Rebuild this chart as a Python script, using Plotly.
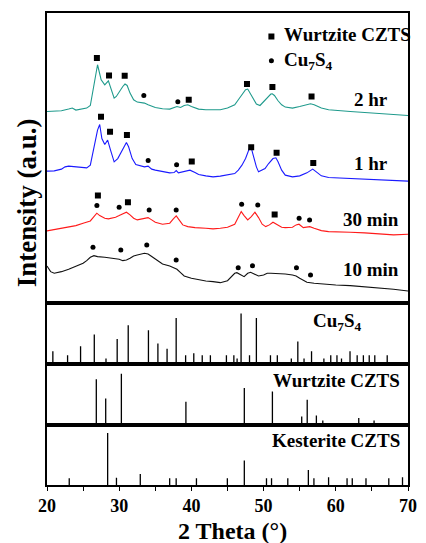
import plotly.graph_objects as go

# ---------------- data ----------------
# XRD patterns (2theta, stacked intensity in a.u.)
x_2hr = [20, 21, 22, 23, 23.5, 24, 25, 25.5, 26, 26.5, 27, 27.5, 28, 28.5, 29, 29.3, 29.6, 30, 30.5, 30.8, 31.1, 31.5, 32, 32.5, 33, 33.5, 34, 35, 36, 37, 38, 38.5, 39, 39.5, 40, 41, 42, 43, 44, 45, 46, 46.5, 47, 47.5, 47.8, 48, 48.5, 49, 49.5, 50, 50.5, 51, 51.2, 51.5, 52, 52.5, 53, 54, 55, 56, 56.5, 57, 58, 59, 60, 62, 64, 66, 68, 70]
y_2hr = [191.6, 191.6, 192.3, 194, 195, 193, 194, 195, 197.6, 218.3, 238.3, 223.3, 218.3, 222.3, 211.6, 205, 206.6, 211.6, 216.6, 219, 217.6, 210, 203.3, 201, 200.6, 200, 198.3, 195.6, 194.3, 194, 196.6, 195.6, 197.6, 198.3, 196.6, 194, 193.3, 193, 193.3, 195, 198.3, 203.3, 209, 213.3, 214, 211.6, 205, 199, 197.6, 201.6, 205.6, 209, 209.3, 207.6, 202.3, 198.3, 196, 195, 196.6, 198.3, 199.3, 198.3, 195, 193.3, 192.6, 191.6, 190.6, 189.6, 189, 187.6]

x_1hr = [20, 21, 22, 22.5, 23, 24, 25, 25.5, 26, 26.5, 27, 27.3, 27.6, 28, 28.4, 28.8, 29.3, 29.8, 30.3, 30.8, 31, 31.3, 31.8, 32.3, 33, 33.5, 34, 34.5, 35, 36, 37, 37.6, 37.9, 38.2, 39, 39.8, 40.5, 41, 42, 43, 44, 45, 46, 46.5, 47, 47.5, 48, 48.2, 48.5, 49, 49.3, 49.7, 50.2, 50.7, 51.3, 51.7, 52, 52.5, 53, 54, 55, 56, 56.8, 57.3, 58, 59, 60, 62, 64, 66, 68, 70]
y_1hr = [132, 132.3, 134, 136.3, 137, 136.3, 135.3, 135.3, 138, 154.6, 173, 178.6, 164.6, 158.6, 163, 153, 141.3, 144.6, 151.3, 158, 160.6, 156.3, 144.6, 138.6, 137.3, 136.3, 137, 134, 133, 131.3, 130.3, 130.6, 132.6, 130.3, 131.3, 133, 130.6, 128.6, 127.3, 126.3, 127, 128, 129.6, 133, 138, 144.6, 154.6, 158, 149.6, 136.3, 131.3, 133, 134.6, 139.6, 144.6, 145.3, 141.3, 133, 128, 126.3, 127.3, 130.3, 134, 131.3, 127.3, 125.6, 125.3, 124.6, 124.3, 123.6, 123, 122]

x_30min = [20, 21, 22, 23, 24, 25, 26, 26.5, 26.9, 27.3, 28, 28.5, 29, 29.5, 30, 30.5, 31, 31.5, 32, 32.5, 33, 33.5, 34, 34.5, 35, 36, 37, 37.5, 37.9, 38.3, 38.8, 39.5, 40.5, 42, 43, 44, 45, 46, 46.5, 46.9, 47.3, 47.8, 48.3, 48.8, 49.3, 49.8, 50.3, 50.8, 51.3, 52, 52.5, 53, 54, 54.5, 54.9, 55.5, 56, 56.4, 57, 58, 59, 60, 62, 64, 66, 68, 70]
y_30min = [72.3, 73.6, 75, 76, 77.6, 80, 82.3, 86.6, 90, 87.6, 85, 84.3, 85, 86, 87.6, 89, 91, 88.3, 85, 83.3, 84.3, 85, 85.6, 83.3, 81, 79, 80, 84.3, 87.3, 83.3, 78.3, 76.6, 75.6, 75, 74.3, 75, 76, 79, 86.6, 91.6, 87.6, 83.3, 86.6, 91, 85.6, 79, 76.6, 78.3, 81, 77.6, 76, 75.6, 76, 78.3, 79, 75.6, 76.3, 76.6, 75, 72.6, 71.6, 71.6, 71, 70.3, 69.6, 68.3, 69]

x_10min = [20, 20.5, 21, 22, 23, 24, 25, 25.5, 26, 26.5, 27, 28, 29, 29.5, 30, 30.5, 31, 31.5, 32, 32.5, 33, 33.5, 34, 34.5, 35, 35.5, 36, 37, 37.5, 38, 38.5, 39, 40, 41, 42, 43, 44, 45, 45.5, 46, 46.3, 46.8, 47.3, 47.8, 48.2, 48.7, 49.3, 50, 50.5, 51, 52, 53, 54, 54.5, 55, 55.5, 56, 57, 58, 59, 60, 62, 64, 66, 68, 70]
y_10min = [37.3, 31.6, 30, 31.6, 34, 37.3, 40, 42.6, 46, 47.6, 46.6, 46, 45, 44, 44, 42.6, 43.3, 45, 47.3, 48.3, 49.3, 50, 49.3, 46.6, 44, 41.6, 39.3, 37.3, 36, 34, 30.6, 27.3, 25, 23.3, 22.3, 21.6, 20.6, 22.6, 26.6, 30, 30.6, 28.3, 26.6, 30, 31, 29.3, 27.3, 28.3, 30, 30, 30, 29.3, 28.3, 27.3, 25, 22.6, 21, 20, 19.3, 19, 18.3, 17.6, 16.6, 15.6, 14, 12.3]

series_names = ["2 hr", "1 hr", "30 min", "10 min"]

# peak markers (2theta, label height)
sq_x = [26.91, 28.59, 30.76, 39.63, 47.70, 51.22, 56.64,
        27.48, 28.73, 31.07, 40.05, 48.28, 51.80, 56.88,
        27.05, 31.21, 51.53]
sq_y = [245, 227.6, 227.3, 203.3, 219, 216, 206.6,
        186.3, 171.3, 168, 141.6, 156, 150.3, 140.1,
        107.6, 101, 88.6]
ci_x = [33.41, 38.12,
        34.01, 37.95,
        26.91, 29.99, 34.15, 37.89, 46.96, 49.19, 54.92, 56.37,
        26.37, 30.22, 33.82, 37.89, 46.48, 48.46, 54.55, 56.5]
ci_y = [207.6, 201.3,
        142.6, 138.3,
        97.6, 96, 93.3, 93.3, 99, 98.3, 85, 83.3,
        56, 53.3, 58.3, 43.3, 35.6, 37.6, 35.6, 28.3]

# reference stick patterns (2theta, relative intensity %)
cu7s4_pos = [20.81, 22.85, 24.65, 26.55, 28.17, 29.72, 31.25, 34.05, 35.36, 36.63, 37.89, 39.2, 40.33, 41.5, 42.63, 44.85, 45.88, 46.33, 46.88, 48.05, 49.0, 50.95, 51.9, 53.84, 54.74, 55.6, 56.64, 58.35, 59.3, 60.16, 60.79, 61.97, 62.96, 63.82, 64.63, 65.4, 67.12]
cu7s4_int = [26, 18, 36, 59, 12, 50, 77, 67, 41, 31, 91, 18, 22, 18, 18, 18, 18, 12, 100, 18, 91, 18, 18, 12, 45, 12, 26, 12, 18, 18, 12, 26, 18, 18, 18, 18, 18]

wz_pos = [26.83, 28.13, 30.3, 39.24, 47.33, 51.22, 55.28, 56.04, 57.31, 58.2, 63.18, 65.3]
wz_int = [89, 51, 100, 45, 72, 65, 16, 49, 18, 8, 13, 8]

ks_pos = [23.08, 28.4, 29.62, 32.92, 36.99, 37.89, 40.7, 44.98, 47.33, 50.4, 51.1, 53.35, 56.2, 56.97, 59.0, 61.56, 62.28, 64.18, 67.34, 69.24]
ks_int = [13, 100, 14, 21, 13, 13, 13, 13, 47, 13, 13, 13, 29, 13, 15, 13, 13, 13, 13, 15]

x_ticks = [20, 30, 40, 50, 60, 70]

# ---------------- figure ----------------
FONT = "Liberation Serif"
fig = go.Figure()

colors = ["#1f9a8c", "#1a1aff", "#ff1a1a", "#111111"]
for xs, ys, c, n in zip([x_2hr, x_1hr, x_30min, x_10min],
                        [y_2hr, y_1hr, y_30min, y_10min], colors, series_names):
    fig.add_trace(go.Scatter(x=xs, y=ys, mode="lines", line=dict(color=c, width=1.1),
                             name=n, showlegend=False, xaxis="x", yaxis="y"))

fig.add_trace(go.Scatter(x=sq_x, y=sq_y, mode="markers",
                         marker=dict(symbol="square", size=6, color="black"),
                         showlegend=False, xaxis="x", yaxis="y"))
fig.add_trace(go.Scatter(x=ci_x, y=ci_y, mode="markers",
                         marker=dict(symbol="circle", size=5, color="black"),
                         showlegend=False, xaxis="x", yaxis="y"))

# legend symbols (in top panel)
fig.add_trace(go.Scatter(x=[51.08], y=[266.6], mode="markers",
                         marker=dict(symbol="square", size=6, color="black"),
                         showlegend=False, xaxis="x", yaxis="y"))
fig.add_trace(go.Scatter(x=[51.08], y=[242.3], mode="markers",
                         marker=dict(symbol="circle", size=5, color="black"),
                         showlegend=False, xaxis="x", yaxis="y"))


def sticks(pos, inten):
    xs, ys = [], []
    for p, v in zip(pos, inten):
        xs += [p, p, None]
        ys += [0, v, None]
    return xs, ys


for pos, inten, ax in [(cu7s4_pos, cu7s4_int, "2"), (wz_pos, wz_int, "3"), (ks_pos, ks_int, "4")]:
    sx, sy = sticks(pos, inten)
    fig.add_trace(go.Scatter(x=sx, y=sy, mode="lines", line=dict(color="black", width=1.3),
                             showlegend=False, xaxis="x" + ax, yaxis="y" + ax))

LBL = 19
ann = []
lbl_y = [203.3, 139.3, 84, 34]
for n, yv in zip(series_names, lbl_y):
    ann.append(dict(x=64.9, y=yv, xref="x", yref="y", text="<b>%s</b>" % n, showarrow=False,
                    font=dict(family=FONT, size=LBL, color="black"), xanchor="center", yanchor="middle"))
ann.append(dict(x=52.5, y=268.6, xref="x", yref="y", text="<b>Wurtzite CZTS</b>", showarrow=False,
                font=dict(family=FONT, size=LBL, color="black"), xanchor="left", yanchor="middle"))
ann.append(dict(x=52.5, y=242.3, xref="x", yref="y", text="<b>Cu<sub>7</sub>S<sub>4</sub></b>", showarrow=False,
                font=dict(family=FONT, size=LBL, color="black"), xanchor="left", yanchor="middle"))
ann.append(dict(x=60.2, y=0.69, xref="x2", yref="y2 domain", text="<b>Cu<sub>7</sub>S<sub>4</sub></b>",
                showarrow=False, font=dict(family=FONT, size=LBL, color="black"),
                xanchor="center", yanchor="middle"))
ann.append(dict(x=69.1, y=0.73, xref="x3", yref="y3 domain", text="<b>Wurtzite CZTS</b>",
                showarrow=False, font=dict(family=FONT, size=LBL, color="black"),
                xanchor="right", yanchor="middle"))
ann.append(dict(x=69.2, y=0.744, xref="x4", yref="y4 domain", text="<b>Kesterite CZTS</b>",
                showarrow=False, font=dict(family=FONT, size=LBL, color="black"),
                xanchor="right", yanchor="middle"))
ann.append(dict(x=-0.057, y=0.598, xref="paper", yref="paper", text="<b>Intensity (a.u.)</b>",
                textangle=-90, showarrow=False, font=dict(family=FONT, size=27, color="black"),
                xanchor="center", yanchor="middle"))
ann.append(dict(x=0.5135, y=-0.097, xref="paper", yref="paper", text="<b>2 Theta (°)</b>",
                showarrow=False, font=dict(family=FONT, size=24, color="black"),
                xanchor="center", yanchor="middle"))

axis_common = dict(showline=True, mirror=True, linecolor="black", linewidth=1.5,
                   showgrid=False, zeroline=False, range=[20, 70])
yaxis_common = dict(showline=True, mirror=True, linecolor="black", linewidth=1.5,
                    showgrid=False, zeroline=False, showticklabels=False, ticks="")

fig.update_layout(
    width=426, height=543,
    margin=dict(l=47, r=9, t=13, b=58),
    paper_bgcolor="white", plot_bgcolor="white",
    font=dict(family=FONT, color="black"),
    showlegend=False,
    xaxis=dict(**axis_common, anchor="y", showticklabels=False, ticks=""),
    xaxis2=dict(**axis_common, anchor="y2", matches="x", showticklabels=False, ticks=""),
    xaxis3=dict(**axis_common, anchor="y3", matches="x", showticklabels=False, ticks=""),
    xaxis4=dict(**axis_common, anchor="y4", matches="x", ticks="outside", ticklen=4, tickwidth=1.3,
                tickcolor="black", tickvals=x_ticks, ticktext=["<b>%d</b>" % t for t in x_ticks],
                tickfont=dict(family=FONT, size=18, color="black"),
                minor=dict(dtick=5, ticks="outside", ticklen=4, tickwidth=1.3, tickcolor="black")),
    yaxis=dict(**yaxis_common, domain=[0.385, 1.0], anchor="x", range=[0, 290]),
    yaxis2=dict(**yaxis_common, domain=[0.2553, 0.385], anchor="x2", range=[0, 120]),
    yaxis3=dict(**yaxis_common, domain=[0.128, 0.2553], anchor="x3", range=[0, 118]),
    yaxis4=dict(**yaxis_common, domain=[0.0, 0.128], anchor="x4", range=[0, 116]),
    annotations=ann,
)

fig.write_html("out.html", config={"displayModeBar": False},
               post_script="document.body.style.margin='0';document.body.style.overflow='hidden';")
